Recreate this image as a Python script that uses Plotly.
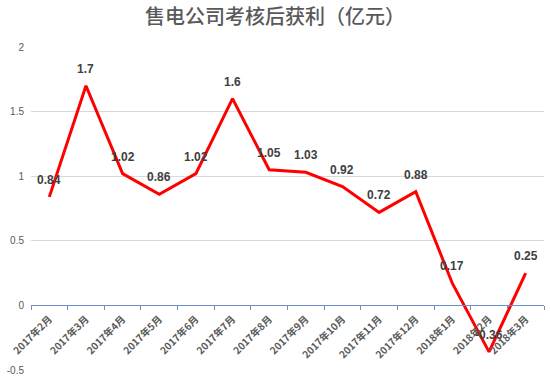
import plotly.graph_objects as go

months = ["2017年2月", "2017年3月", "2017年4月", "2017年5月", "2017年6月", "2017年7月",
          "2017年8月", "2017年9月", "2017年10月", "2017年11月", "2017年12月",
          "2018年1月", "2018年2月", "2018年3月"]
profit = [0.84, 1.7, 1.02, 0.86, 1.02, 1.6, 1.05, 1.03, 0.92, 0.72, 0.88, 0.17, -0.36, 0.25]
y_ticks = [-0.5, 0, 0.5, 1, 1.5, 2]
y_tick_text = ["-0.5", "0", "0.5", "1", "1.5", "2"]

font_cn = "Noto Sans CJK SC, Microsoft YaHei, sans-serif"
font_num = "Liberation Sans, Arial, sans-serif"

fig = go.Figure()
fig.add_trace(go.Scatter(
    x=months, y=profit, mode="lines",
    line=dict(color="#FF0000", width=3),
    hoverinfo="x+y",
))

for m, v in zip(months, profit):
    fig.add_annotation(x=m, y=v, text=f"{v:g}", showarrow=False, yshift=17,
                       font=dict(family=font_num, size=12, color="#404040", weight="bold"))

fig.update_layout(
    width=550, height=378,
    margin=dict(l=31, r=6, t=47, b=8),
    paper_bgcolor="white", plot_bgcolor="white",
    showlegend=False,
    title=dict(text="售电公司考核后获利（亿元）", x=0.5, xanchor="center", y=0.955, yanchor="middle",
               font=dict(family=font_cn, size=20, color="#595959", weight=500)),
    xaxis=dict(
        type="category", anchor="free", position=0.2, automargin=False,
        showline=True, linecolor="#6E8FC9", linewidth=1,
        ticks="outside", tickson="boundaries", ticklen=4, tickcolor="#6E8FC9",
        tickangle=-45, showgrid=False, ticklabelstandoff=3,
        tickfont=dict(family=font_cn, size=10, color="#595959", weight="bold"),
        range=[-0.5, 13.5],
    ),
    yaxis=dict(
        range=[-0.5, 2], tickvals=y_ticks, ticktext=y_tick_text, automargin=False,
        showgrid=True, gridcolor="#D9D9D9", gridwidth=1, zeroline=False,
        showline=False, ticks="", ticklabelstandoff=6,
        tickfont=dict(family=font_num, size=10, color="#595959"),
    ),
)

fig.write_html("out.html", config={"displayModeBar": False},
               post_script="document.body.style.margin='0';")
